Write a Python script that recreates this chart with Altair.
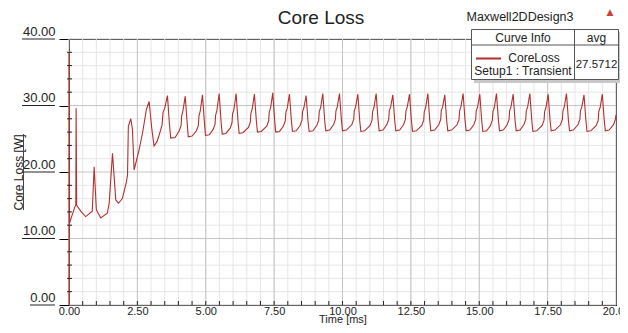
import altair as alt
import pandas as pd

# ---------------- data ----------------
TIME = [
    0.00, 0.00, 0.02, 0.12, 0.22, 0.25, 0.26, 0.28, 0.45, 0.61, 0.85, 0.92, 1.00, 1.16, 1.40,
    1.47, 1.59, 1.71, 1.81, 1.95, 2.10, 2.14, 2.17, 2.26, 2.32, 2.38, 2.56, 2.69, 2.83, 2.93,
    3.03, 3.11, 3.22, 3.30, 3.40, 3.44, 3.50, 3.60,
    3.67, 3.72, 3.88, 4.03, 4.10, 4.12, 4.17, 4.25,
    4.32, 4.36, 4.50, 4.66, 4.73, 4.75, 4.80, 4.88,
    4.95, 4.99, 5.13, 5.27, 5.34, 5.36, 5.41, 5.49,
    5.56, 5.60, 5.74, 5.89, 5.96, 5.98, 6.03, 6.11,
    6.18, 6.22, 6.36, 6.56, 6.63, 6.65, 6.70, 6.78,
    6.85, 6.89, 7.03, 7.23, 7.30, 7.32, 7.37, 7.45,
    7.52, 7.56, 7.70, 7.84, 7.91, 7.93, 7.98, 8.06,
    8.13, 8.17, 8.31, 8.45, 8.52, 8.54, 8.59, 8.67,
    8.74, 8.78, 8.92, 9.06, 9.13, 9.15, 9.20, 9.28,
    9.35, 9.39, 9.53, 9.67, 9.74, 9.76, 9.81, 9.89,
    9.96, 10.00, 10.14, 10.34, 10.41, 10.43, 10.48, 10.56,
    10.63, 10.67, 10.81, 11.01, 11.08, 11.10, 11.15, 11.23,
    11.30, 11.34, 11.48, 11.62, 11.69, 11.71, 11.76, 11.84,
    11.91, 11.95, 12.09, 12.23, 12.30, 12.32, 12.37, 12.45,
    12.52, 12.56, 12.70, 12.90, 12.97, 12.99, 13.04, 13.12,
    13.19, 13.23, 13.37, 13.52, 13.59, 13.61, 13.66, 13.74,
    13.81, 13.85, 13.99, 14.19, 14.26, 14.28, 14.33, 14.41,
    14.48, 14.52, 14.66, 14.80, 14.87, 14.89, 14.94, 15.02,
    15.09, 15.13, 15.27, 15.41, 15.48, 15.50, 15.55, 15.63,
    15.70, 15.74, 15.88, 16.02, 16.09, 16.11, 16.16, 16.24,
    16.31, 16.35, 16.49, 16.63, 16.70, 16.72, 16.77, 16.85,
    16.92, 16.96, 17.10, 17.30, 17.37, 17.39, 17.44, 17.52,
    17.59, 17.63, 17.77, 17.97, 18.04, 18.06, 18.11, 18.19,
    18.26, 18.30, 18.44, 18.61, 18.68, 18.70, 18.75, 18.83,
    18.90, 18.94, 19.08, 19.28, 19.35, 19.37, 19.42, 19.50,
    19.57, 19.61, 19.75, 19.92, 19.98, 20.00,
]
LOSS = [
    0.0, 38.0, 12.3, 13.6, 14.8, 15.1, 29.6, 15.0, 14.0, 13.3, 14.1, 20.8, 14.3, 13.1, 13.8,
    15.3, 22.8, 15.8, 15.3, 16.0, 18.5, 19.6, 26.9, 28.0, 26.4, 20.3, 23.3, 25.9, 29.4, 30.6,
    26.4, 23.9, 24.6, 25.6, 27.0, 29.0, 29.6, 31.5,
    27.3, 25.1, 25.2, 26.2, 27.0, 28.4, 29.3, 31.4,
    27.4, 25.3, 25.4, 26.2, 27.0, 28.4, 29.2, 31.6,
    27.5, 25.5, 25.6, 26.4, 27.2, 28.5, 29.3, 31.8,
    27.6, 25.7, 25.8, 26.6, 27.4, 28.7, 29.4, 31.8,
    27.6, 25.8, 25.9, 26.7, 27.5, 28.8, 29.5, 31.7,
    27.7, 26.0, 26.1, 26.9, 27.7, 29.0, 29.6, 31.9,
    27.7, 26.0, 26.1, 26.9, 27.7, 29.0, 29.6, 31.7,
    27.8, 26.1, 26.2, 27.0, 27.8, 29.1, 29.7, 31.5,
    27.6, 26.1, 26.2, 27.0, 27.8, 29.1, 29.7, 31.8,
    27.7, 26.2, 26.3, 27.1, 27.9, 29.2, 29.8, 31.8,
    27.8, 26.2, 26.3, 27.1, 27.9, 29.2, 29.8, 31.7,
    27.7, 26.1, 26.2, 27.0, 27.8, 29.1, 29.7, 31.8,
    27.8, 26.2, 26.3, 27.1, 27.9, 29.2, 29.8, 31.6,
    27.7, 26.2, 26.3, 27.1, 27.9, 29.2, 29.8, 31.7,
    27.7, 26.1, 26.2, 27.0, 27.8, 29.1, 29.7, 31.8,
    27.8, 26.2, 26.3, 27.1, 27.9, 29.2, 29.8, 31.6,
    27.7, 26.2, 26.3, 27.1, 27.9, 29.2, 29.8, 31.8,
    27.8, 26.2, 26.3, 27.1, 27.9, 29.2, 29.8, 31.7,
    27.7, 26.1, 26.2, 27.0, 27.8, 29.1, 29.7, 31.8,
    27.8, 26.2, 26.3, 27.1, 27.9, 29.2, 29.8, 31.7,
    27.7, 26.2, 26.3, 27.1, 27.9, 29.2, 29.8, 31.8,
    27.8, 26.1, 26.2, 27.0, 27.8, 29.1, 29.7, 31.7,
    27.7, 26.2, 26.3, 27.1, 27.9, 29.2, 29.8, 31.8,
    27.8, 26.2, 26.3, 27.1, 27.9, 29.2, 29.8, 31.6,
    27.7, 26.1, 26.2, 27.0, 27.8, 29.1, 29.7, 31.7,
    27.8, 26.2, 26.3, 27.2, 28.0, 28.6,
]
X_MAJOR = [0, 2.5, 5, 7.5, 10, 12.5, 15, 17.5, 20]
X_MINOR = [0.5, 1.0, 1.5, 2.0, 2.5, 3.0, 3.5, 4.0, 4.5, 5.0, 5.5, 6.0, 6.5, 7.0, 7.5, 8.0,
           8.5, 9.0, 9.5, 10.0, 10.5, 11.0, 11.5, 12.0, 12.5, 13.0, 13.5, 14.0, 14.5, 15.0,
           15.5, 16.0, 16.5, 17.0, 17.5, 18.0, 18.5, 19.0, 19.5]
Y_MAJOR = [0, 10, 20, 30, 40]
Y_MINOR = [2, 4, 6, 8, 12, 14, 16, 18, 22, 24, 26, 28, 32, 34, 36, 38]
Y_UNDERLINED = [10, 20, 30, 40]
Y_ZERO = [0]

TITLE = "Core Loss"
DESIGN = "Maxwell2DDesign3"
CURVE_NAME = "CoreLoss"
CURVE_SETUP = "Setup1 : Transient"
AVG_VALUE = "27.5712"

W, H = 547, 266
FONT = "Liberation Sans"
LINE_COLOR = "#b3302e"

df = pd.DataFrame({"t": TIME, "loss": LOSS, "i": list(range(len(TIME)))})
xs = alt.Scale(domain=[0, 20], nice=False, zero=False)
ys = alt.Scale(domain=[0, 40], nice=False, zero=False)


def vrules(values, color, y0, y1, width=1):
    return alt.Chart(pd.DataFrame({"x": values})).mark_rule(color=color, strokeWidth=width).encode(
        x=alt.X("x:Q", scale=xs, axis=None), y=alt.value(y0), y2=alt.value(y1))


def hrules(values, color, x0, x1, width=1):
    return alt.Chart(pd.DataFrame({"y": values})).mark_rule(color=color, strokeWidth=width).encode(
        y=alt.Y("y:Q", scale=ys, axis=None), x=alt.value(x0), x2=alt.value(x1))


def text(s, x, y, size=12, color="#222", align="center", font=FONT, angle=0):
    return alt.Chart(alt.Data(values=[{}])).mark_text(
        text=s, fontSize=size, color=color, align=align, baseline="middle", font=font, angle=angle
    ).encode(x=alt.value(x), y=alt.value(y))


def box(x0, x1, y0, y1, fill="white", stroke="#555", sw=1):
    return alt.Chart(alt.Data(values=[{}])).mark_rect(fill=fill, stroke=stroke, strokeWidth=sw).encode(
        x=alt.value(x0), x2=alt.value(x1), y=alt.value(y0), y2=alt.value(y1))


def seg(x0, x1, y0, y1, color="#555", sw=1):
    return alt.Chart(alt.Data(values=[{}])).mark_rule(color=color, strokeWidth=sw).encode(
        x=alt.value(x0), x2=alt.value(x1), y=alt.value(y0), y2=alt.value(y1))


grid_minor_v = vrules(X_MINOR, "#e6e6e6", 0, H)
grid_minor_h = hrules(Y_MINOR, "#e6e6e6", 0, W)
grid_major_v = vrules(X_MAJOR, "#c4c4c4", 0, H)
grid_major_h = hrules(Y_MAJOR, "#c4c4c4", 0, W)

line = alt.Chart(df).mark_line(color=LINE_COLOR, strokeWidth=1.1).encode(
    x=alt.X("t:Q", scale=xs, axis=alt.Axis(
        values=X_MAJOR, format=".2f", grid=False, tickSize=0, labelFlush=False, labelOverlap=False,
        labelFontSize=11, labelColor="#222", labelPadding=0, labelFont=FONT, domainColor="#000",
        title="Time [ms]", titleFont=FONT, titleFontSize=11, titleFontWeight="normal", titleColor="#222",
        titleX=W / 2, titleY=14, titleBaseline="middle", titleAlign="center")),
    y=alt.Y("loss:Q", scale=ys, axis=alt.Axis(
        values=Y_MAJOR, format=".2f", grid=False, tickSize=10, tickColor="#000", labelFlush=False,
        labelOverlap=False, labelAlign="right", labelBaseline="bottom", labelPadding=4, labelOffset=-1,
        labelFontSize=13, labelColor="#222", labelFont=FONT, domainColor="#000",
        title="Core Loss [W]", titleFont=FONT, titleFontSize=12, titleFontWeight="normal",
        titleColor="#222", titleX=-51, titleY=H / 2, titleAngle=270, titleBaseline="middle",
        titleAlign="center")),
    order=alt.Order("i:Q"),
)

x_ticks = vrules(X_MINOR, "#222", H - 4, H)
y_ticks = hrules(Y_MINOR, "#222", -2, 3)
y_under = hrules(Y_UNDERLINED, "#222", -47, -14)
y_under0 = hrules(Y_ZERO, "#222", -39, -14)
ytitle_under = seg(-45.5, -45.5, 95, 171, color="#444")

legend = [
    box(405.5, 552, -6.5, 43.5, fill="#c8c8c8", stroke="#c8c8c8"),
    box(402.5, 549.5, -9.5, 40.5),
    seg(505.5, 505.5, -9.5, 40.5),
    seg(402.5, 549.5, 6, 6),
    text("Curve Info", 454, -1, size=12),
    text("avg", 527.5, -1, size=12),
    seg(407, 432, 19.5, 19.5, color=LINE_COLOR, sw=2),
    text(CURVE_NAME, 465, 19, size=12),
    text(CURVE_SETUP, 454, 32, size=12),
    text(AVG_VALUE, 527.5, 26, size=11.5),
]

annotations = [
    text(TITLE, 252, -21, size=19),
    text(DESIGN, 451, -22, size=12.5),
    text("\u25B2", 541, -27, size=9, color="#d0403a", font="DejaVu Sans"),
]

chart = alt.layer(
    grid_minor_v, grid_minor_h, grid_major_v, grid_major_h, line,
    x_ticks, y_ticks, y_under, y_under0, ytitle_under, *legend, *annotations,
).resolve_axis(x="independent", y="independent").properties(
    width=W, height=H,
    padding={"left": 61, "top": 31, "right": 4, "bottom": 20},
    autosize=alt.AutoSizeParams(type="none"),
    background="white",
).configure_view(stroke="#000", strokeWidth=1)

chart.save("out.html", embed_options={"renderer": "svg", "actions": False})
